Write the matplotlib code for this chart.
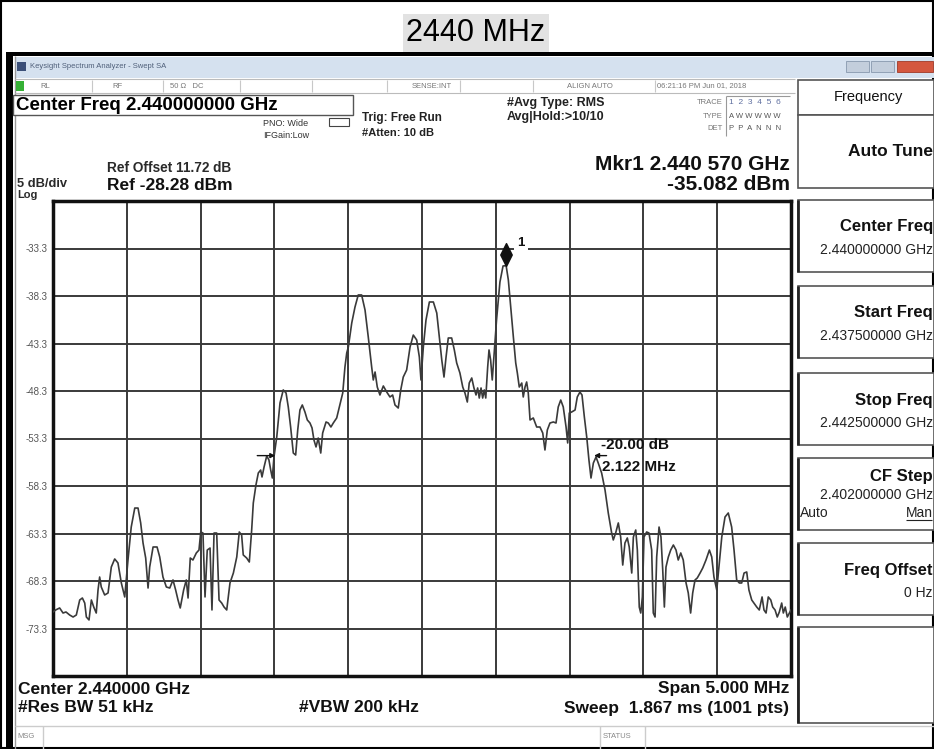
import numpy as np
import matplotlib
matplotlib.use('Agg')
import matplotlib.pyplot as plt
from matplotlib.patches import Rectangle
from matplotlib.path import Path

# ---------------- data ----------------
title = "2440 MHz"
center_ghz = 2.440
span_mhz = 5.0
ref_level = -28.28
db_per_div = 5
ytick_vals = [ref_level - db_per_div * i for i in range(11)]

freq_offset_mhz = [
    -2.5,
    -2.482, -2.455, -2.432, -2.412, -2.387, -2.364, -2.342, -2.319, -2.301, -2.285,
    -2.274, -2.256, -2.24, -2.224, -2.207, -2.195, -2.184, -2.173, -2.15, -2.127,
    -2.105, -2.082, -2.06, -2.037, -2.014, -1.992, -1.97, -1.946, -1.924, -1.906,
    -1.89, -1.872, -1.856, -1.845, -1.822, -1.795, -1.777, -1.755, -1.732, -1.709,
    -1.687, -1.669, -1.653, -1.638, -1.615, -1.597, -1.585, -1.57, -1.552, -1.529,
    -1.511, -1.499, -1.484, -1.47, -1.455, -1.436, -1.423, -1.409, -1.391, -1.375,
    -1.357, -1.341, -1.323, -1.301, -1.278, -1.255, -1.238, -1.222, -1.211, -1.188,
    -1.17, -1.154, -1.143, -1.125, -1.109, -1.093, -1.084, -1.07, -1.052, -1.037,
    -1.025, -1.014, -1.003, -0.984, -0.962, -0.94, -0.921, -0.906, -0.89, -0.872,
    -0.856, -0.842, -0.827, -0.811, -0.793, -0.777, -0.759, -0.745, -0.732, -0.718,
    -0.703, -0.686, -0.673, -0.65, -0.635, -0.617, -0.601, -0.578, -0.56, -0.537,
    -0.522, -0.51, -0.499, -0.476, -0.454, -0.432, -0.409, -0.386, -0.364, -0.341,
    -0.33, -0.318, -0.303, -0.285, -0.262, -0.239, -0.217, -0.199, -0.183, -0.161,
    -0.144, -0.127, -0.104, -0.081, -0.059, -0.036, -0.018, -0.007, 0.009, 0.027,
    0.05, 0.077, 0.1, 0.117, 0.134, 0.149, 0.163, 0.178, 0.201, 0.219,
    0.235, 0.257, 0.276, 0.291, 0.307, 0.32, 0.337, 0.352, 0.366, 0.377,
    0.388, 0.4, 0.411, 0.422, 0.432, 0.445, 0.454, 0.465, 0.476, 0.488,
    0.505, 0.517, 0.528, 0.549, 0.57, 0.585, 0.601, 0.619, 0.635, 0.646,
    0.659, 0.676, 0.686, 0.698, 0.709, 0.72, 0.732, 0.754, 0.777, 0.799,
    0.818, 0.833, 0.849, 0.867, 0.89, 0.908, 0.923, 0.94, 0.957, 0.976,
    0.987, 0.998, 1.014, 1.037, 1.052, 1.07, 1.084, 1.1, 1.116, 1.131,
    1.145, 1.161, 1.179, 1.194, 1.217, 1.24, 1.262, 1.285, 1.296, 1.312,
    1.33, 1.346, 1.36, 1.375, 1.391, 1.404, 1.421, 1.432, 1.448, 1.459,
    1.472, 1.482, 1.493, 1.504, 1.522, 1.538, 1.556, 1.567, 1.579, 1.59,
    1.606, 1.619, 1.631, 1.642, 1.653, 1.669, 1.685, 1.703, 1.721, 1.736,
    1.753, 1.77, 1.789, 1.804, 1.82, 1.834, 1.85, 1.865, 1.884, 1.902,
    1.924, 1.947, 1.963, 1.978, 1.997, 2.014, 2.031, 2.053, 2.075, 2.098,
    2.114, 2.132, 2.15, 2.166, 2.182, 2.2, 2.215, 2.234, 2.249, 2.268,
    2.285, 2.304, 2.317, 2.331, 2.346, 2.363, 2.376, 2.392, 2.407, 2.421,
    2.437, 2.448, 2.461, 2.475, 2.489, 2.5,
]

level_dbm = [
    -71.54,
    -71.33, -71.12, -71.65, -71.54, -71.86, -72.07, -71.86, -70.28, -70.07, -70.6,
    -72.07, -72.38, -70.28, -71.02, -71.65, -69.23, -67.86, -68.91, -69.75, -69.54,
    -66.81, -65.96, -66.38, -68.49, -69.96, -66.07, -62.6, -60.6, -60.6, -62.17,
    -64.28, -65.86, -69.02, -66.81, -64.7, -64.7, -65.75, -67.86, -68.91, -69.02,
    -68.17, -69.23, -70.28, -71.12, -69.23, -68.17, -70.07, -65.86, -66.07, -65.33,
    -65.02, -63.12, -63.23, -69.96, -65.02, -64.81, -71.33, -63.23, -63.23, -70.28,
    -70.6, -71.02, -71.33, -68.49, -67.44, -65.75, -63.12, -63.44, -65.54, -65.86,
    -66.28, -62.91, -60.07, -58.17, -56.91, -56.6, -57.33, -56.28, -55.12, -55.54,
    -56.6, -57.44, -55.23, -53.12, -49.54, -48.17, -48.49, -49.96, -52.07, -54.81,
    -55.02, -52.39, -50.28, -49.75, -50.49, -51.33, -51.65, -52.17, -53.44, -54.17,
    -53.23, -54.81, -52.7, -51.54, -51.65, -52.07, -51.65, -51.12, -49.96, -48.49,
    -45.75, -44.28, -43.65, -41.12, -39.44, -38.17, -38.17, -39.75, -42.6, -45.75,
    -47.12, -46.28, -47.86, -48.7, -47.75, -48.39, -48.91, -48.7, -49.75, -50.07,
    -48.17, -46.81, -46.07, -43.65, -42.39, -42.91, -44.7, -47.12, -43.65, -40.81,
    -38.91, -38.91, -40.07, -42.6, -45.02, -46.81, -44.7, -42.7, -42.7, -43.96,
    -45.33, -46.39, -47.86, -48.49, -49.44, -47.44, -46.91, -47.96, -48.7, -47.96,
    -49.02, -47.96, -49.02, -48.17, -49.02, -45.75, -43.96, -45.02, -47.12, -44.49,
    -40.81, -38.7, -36.81, -35.12, -35.08, -36.6, -39.44, -42.6, -45.33, -46.39,
    -47.86, -47.44, -48.91, -47.86, -47.33, -48.49, -51.33, -51.12, -52.07, -52.07,
    -52.7, -54.49, -52.39, -51.65, -51.54, -51.65, -49.96, -49.23, -49.96, -52.07,
    -53.75, -50.6, -50.49, -50.28, -48.91, -48.39, -48.7, -51.02, -53.12, -55.54,
    -57.44, -55.86, -55.23, -55.86, -56.91, -58.7, -61.12, -63.23, -63.96, -63.23,
    -62.17, -63.65, -66.6, -64.28, -63.75, -64.7, -67.44, -63.65, -62.91, -65.02,
    -71.02, -71.65, -69.96, -63.65, -63.12, -63.23, -65.02, -71.65, -72.07, -65.75,
    -62.6, -63.65, -67.12, -71.02, -66.81, -65.75, -65.02, -64.49, -65.02, -66.07,
    -65.33, -66.07, -68.49, -69.54, -71.65, -69.54, -68.17, -67.96, -67.44, -66.91,
    -66.07, -65.02, -65.75, -67.86, -69.23, -66.38, -63.65, -61.54, -61.12, -62.6,
    -65.02, -68.17, -68.49, -68.49, -67.44, -67.33, -69.23, -70.28, -70.6, -71.02,
    -71.33, -69.96, -71.33, -71.65, -69.96, -70.28, -71.02, -71.33, -72.07, -71.54,
    -70.6, -71.65, -71.02, -72.07, -71.65, -71.33,
]

marker_freq_offset_mhz = 0.570
marker_level_dbm = -35.082
ndb_value = -20.00
ndb_bw_mhz = 2.122
ndb_left_offset_mhz = -0.975

right_panel = [
    ("Center Freq", "2.440000000 GHz"),
    ("Start Freq", "2.437500000 GHz"),
    ("Stop Freq", "2.442500000 GHz"),
    ("CF Step", "2.402000000 GHz"),
    ("Freq Offset", "0 Hz"),
]

# ---------------- figure ----------------
W, H = 934, 749
plt.rcParams['font.family'] = ['Liberation Sans', 'DejaVu Sans']
fig = plt.figure(figsize=(W / 100, H / 100), dpi=100)
fig.patch.set_facecolor('white')

bg = fig.add_axes([0, 0, 1, 1], zorder=0)
bg.set_xlim(0, W)
bg.set_ylim(H, 0)
bg.axis('off')


def rect(x, y, w, h, fc='none', ec='none', lw=1.0, z=1):
    bg.add_patch(Rectangle((x, y), w, h, facecolor=fc, edgecolor=ec, linewidth=lw, zorder=z))


def line(x0, y0, x1, y1, c='black', lw=1.0, z=2):
    bg.plot([x0, x1], [y0, y1], color=c, lw=lw, zorder=z, solid_capstyle='butt')


def txt(x, y, s, size=10, weight='normal', ha='left', color='black', va='center', **kw):
    return bg.text(x, y, s, fontsize=size, fontweight=weight, ha=ha, va=va, color=color, zorder=5, **kw)


# outer frame and title
rect(1, 1, W - 2, H - 2, ec='black', lw=1.5, z=1)
txt(476, 33, title, size=22, ha='center',
    bbox=dict(boxstyle='square,pad=0.12', facecolor='#e2e2e2', edgecolor='none'))

# thick black frame of the screenshot
rect(6, 52, W - 6, 4, fc='black', z=2)
rect(6, 52, 7, H - 52, fc='black', z=2)
line(15, 56, 15, H, c='#999999', lw=1)

# window title bar
rect(15, 57, W - 15, 21, fc='#d5e1ef', z=1)
rect(17, 62, 9, 9, fc='#3b4f78', z=2)
txt(30, 67, "Keysight Spectrum Analyzer - Swept SA", size=5.5, color='#50607a')
rect(846, 61, 23, 11, fc='#c3cedc', ec='#8898ae', lw=0.6, z=2)
rect(871, 61, 23, 11, fc='#c3cedc', ec='#8898ae', lw=0.6, z=2)
rect(897, 61, 36, 11, fc='#d4573f', ec='#a03a28', lw=0.6, z=2)

# status row
line(15, 79, 795, 79, c='#bbbbbb', lw=0.8)
line(15, 93, 795, 93, c='#bbbbbb', lw=0.8)
rect(16, 81, 8, 10, fc='#35b035', z=2)
for xd in [92, 163, 240, 312, 387, 460, 533, 655]:
    line(xd, 80, xd, 92, c='#c8c8c8', lw=0.8)
txt(40, 86, "RL", size=5.5, color='#777777')
txt(112, 86, "RF", size=5.5, color='#777777')
txt(170, 86, "50 \u03a9   DC", size=5.5, color='#777777')
txt(412, 86, "SENSE:INT", size=5.5, color='#777777')
txt(567, 86, "ALIGN AUTO", size=5.5, color='#777777')
txt(657, 86, "06:21:16 PM Jun 01, 2018", size=5.5, color='#777777')

# center freq box
rect(13, 95, 340, 20, fc='white', ec='#555555', lw=1.0, z=2)
txt(16, 105, "Center Freq 2.440000000 GHz", size=13.5, weight='bold')

txt(263, 123, "PNO: Wide", size=6.5, color='#333333')
txt(263, 136, "IFGain:Low", size=6.5, color='#333333')
rect(329, 118, 20, 8, ec='#444444', lw=0.8, z=2)
txt(362, 118, "Trig: Free Run", size=8.5, weight='bold', color='#222222')
txt(362, 133, "#Atten: 10 dB", size=8, weight='bold', color='#222222')

txt(507, 103, "#Avg Type: RMS", size=9, weight='bold', color='#222222')
txt(507, 117, "Avg|Hold:>10/10", size=9, weight='bold', color='#222222')

# trace info block
line(726, 96, 790, 96, c='#999999', lw=0.8)
line(726, 96, 726, 136, c='#999999', lw=0.8)
txt(723, 103, "TRACE", size=5.5, ha='right', color='#777777')
txt(723, 116, "TYPE", size=5.5, ha='right', color='#777777')
txt(723, 129, "DET", size=5.5, ha='right', color='#777777')
txt(729, 103, "1  2  3  4  5  6", size=6, color='#6070a0')
txt(729, 116, "A W W W W W", size=5.5, color='#555555')
txt(729, 129, "P  P  A  N  N  N", size=5.5, color='#555555')

# marker readout and reference info
txt(790, 165, "Mkr1 2.440 570 GHz", size=15, weight='bold', ha='right', color='#111111')
txt(790, 184, "-35.082 dBm", size=15, weight='bold', ha='right', color='#111111')
txt(107, 168, "Ref Offset 11.72 dB", size=9.8, weight='bold', color='#2a2a2a')
txt(107, 186, "Ref -28.28 dBm", size=12.5, weight='bold', color='#111111')
txt(17, 184, "5 dB/div", size=9.3, weight='bold', color='#2a2a2a')
txt(17, 195.5, "Log", size=8, weight='bold', color='#2a2a2a')

# right panel
rect(798, 80, W - 798, 35, fc='white', ec='#555555', lw=1.2, z=2)
txt(868, 97, "Frequency", size=10.5, ha='center', color='#111111')
rect(798, 115, W - 798, 73, fc='white', ec='#555555', lw=1.2, z=2)
txt(933, 151, "Auto Tune", size=12.5, weight='bold', ha='right', color='#111111')
box_tops = [200, 286, 373, 458, 543]
for (lab, val), yt in zip(right_panel, box_tops):
    rect(798, yt, W - 798, 72, fc='white', ec='#555555', lw=1.2, z=2)
    line(798, yt, 798, yt + 72, c='#222222', lw=2.0, z=3)
    if lab == "CF Step":
        txt(933, yt + 19, lab, size=12, weight='bold', ha='right', color='#111111')
        txt(933, yt + 37, val, size=10, ha='right', color='#222222')
        txt(800, yt + 55, "Auto", size=10, color='#222222')
        txt(933, yt + 55, "Man", size=10, ha='right', color='#222222')
        line(906, yt + 62, 932, yt + 62, c='#222222', lw=0.8, z=3)
    else:
        txt(933, yt + 27, lab, size=12, weight='bold', ha='right', color='#111111')
        txt(933, yt + 50, val, size=10, ha='right', color='#222222')
rect(798, 627, W - 798, 96, fc='white', ec='#555555', lw=1.2, z=2)
line(798, 627, 798, 723, c='#222222', lw=2.0, z=3)

# bottom annotations
txt(18, 689, "Center 2.440000 GHz", size=12.5, weight='bold', color='#111111')
txt(18, 708, "#Res BW 51 kHz", size=12.5, weight='bold', color='#111111')
txt(299, 708, "#VBW 200 kHz", size=12.5, weight='bold', color='#111111')
txt(789, 689, "Span 5.000 MHz", size=12.5, weight='bold', ha='right', color='#111111')
txt(789, 708, "Sweep  1.867 ms (1001 pts)", size=12.5, weight='bold', ha='right', color='#111111')

# bottom status bar
line(15, 726, W, 726, c='#cccccc', lw=1)
line(43, 726, 43, H, c='#cccccc', lw=1)
line(600, 726, 600, H, c='#cccccc', lw=1)
line(645, 726, 645, H, c='#cccccc', lw=1)
txt(17, 737, "MSG", size=5.5, color='#888888')
txt(603, 737, "STATUS", size=5.5, color='#888888')

# ---------------- spectrum plot ----------------
x0, y0, x1, y1 = 53, 201, 791, 676
ax = fig.add_axes([x0 / W, 1 - y1 / H, (x1 - x0) / W, (y1 - y0) / H], zorder=3)
ax.set_facecolor('white')
ax.set_xlim(-span_mhz / 2, span_mhz / 2)
ax.set_ylim(ytick_vals[-1], ytick_vals[0])
ax.set_xticks(np.linspace(-span_mhz / 2, span_mhz / 2, 11))
ax.set_xticklabels([])
ax.set_yticks(ytick_vals)
ax.set_yticklabels(['' if i in (0, 10) else f'{v:.1f}' for i, v in enumerate(ytick_vals)])
ax.tick_params(length=0, pad=3.6, labelsize=7, labelcolor='#555555')
ax.grid(True, color='#3a3a3a', lw=1.4)
ax.set_axisbelow(True)
for s in ax.spines.values():
    s.set_linewidth(2.5)
    s.set_color('#111111')

ax.plot(freq_offset_mhz, level_dbm, color='#3a3a3a', lw=1.2, zorder=3)

# marker 1
diamond = Path([(0, 0), (0.5, 1), (0, 2), (-0.5, 1), (0, 0)],
               [Path.MOVETO, Path.LINETO, Path.LINETO, Path.LINETO, Path.CLOSEPOLY])
ax.plot([marker_freq_offset_mhz], [marker_level_dbm], marker=diamond, markersize=33,
        color='#111111', linestyle='none', zorder=5)
ax.annotate('1', xy=(marker_freq_offset_mhz, marker_level_dbm), xytext=(8, 16),
            textcoords='offset points', fontsize=9.5, fontweight='bold', color='#111111',
            va='center', ha='left', zorder=6,
            bbox=dict(boxstyle='square,pad=0.25', facecolor='white', edgecolor='none'))

# n dB bandwidth markers
ndb_level = marker_level_dbm + ndb_value
ndb_right = ndb_left_offset_mhz + ndb_bw_mhz
ax.annotate('', xy=(ndb_left_offset_mhz, ndb_level), xytext=(-17, 0), textcoords='offset points',
            arrowprops=dict(arrowstyle='-|>', color='#111111', lw=1.0, mutation_scale=7), zorder=6)
ax.annotate('', xy=(ndb_right, ndb_level), xytext=(13, 0), textcoords='offset points',
            arrowprops=dict(arrowstyle='-|>', color='#111111', lw=1.0, mutation_scale=7), zorder=6)
ax.annotate(f'{ndb_value:.2f} dB', xy=(ndb_right, ndb_level), xytext=(7, 8),
            textcoords='offset points', fontsize=11, fontweight='bold', color='#111111',
            va='center', ha='left', zorder=6)
ax.annotate(f'{ndb_bw_mhz:.3f} MHz', xy=(ndb_right, ndb_level), xytext=(8, -8),
            textcoords='offset points', fontsize=11, fontweight='bold', color='#111111',
            va='center', ha='left', zorder=6)

fig.savefig('out.png', dpi=100, facecolor='white')
